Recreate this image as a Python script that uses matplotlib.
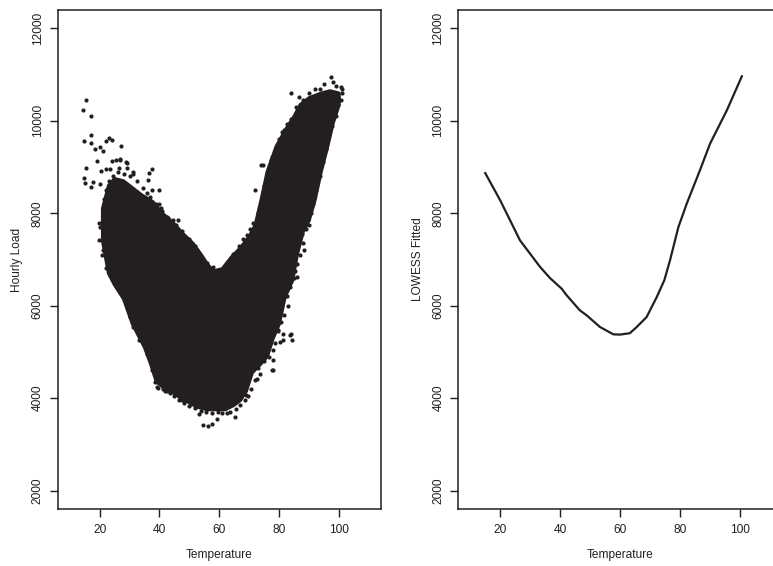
import numpy as np
import matplotlib
matplotlib.use("Agg")
import matplotlib.pyplot as plt

plt.rcParams['font.family'] = ['Liberation Sans', 'DejaVu Sans']

INK = '#231f20'

# Dense core of the load/temperature cloud: upper and lower edges
core_up_temp = [21, 23, 25, 28, 31, 34, 37.8, 41, 44.5, 48, 51.2, 54, 56, 58, 61,
                64, 67, 70, 72, 74, 76, 79, 82.5, 85, 87, 90, 94, 97, 100]
core_up_load = [8100, 8600, 8750, 8700, 8550, 8400, 8250, 8000, 7800, 7550, 7350,
                7100, 6900, 6750, 6800, 7050, 7250, 7500, 7750, 8300, 8900, 9450,
                9850, 10100, 10350, 10500, 10600, 10650, 10600]
core_lo_temp = [21, 23, 25, 28, 31, 33, 35, 37, 39, 41, 44, 47, 50, 53, 56, 59, 62,
                65, 67, 69, 71, 74, 76, 78, 80, 82, 84.5, 86, 88, 90, 92, 94, 96,
                98, 100]
core_lo_load = [7400, 6700, 6450, 6150, 5600, 5350, 5100, 4750, 4350, 4250, 4150,
                4000, 3900, 3800, 3750, 3750, 3750, 3850, 3950, 4150, 4550, 4750,
                4900, 5300, 5600, 6200, 6550, 7100, 7600, 7850, 8300, 8900, 9400,
                9950, 10350]

# Individual hours around the edge of the cloud
edge_temp = [15.6, 14.5, 17.0, 17.3, 14.8, 17.0, 18.4, 20.3, 21.0, 22.1, 23.2, 24.2,
             27.0, 19.0, 24.0, 25.4, 26.8, 28.8, 15.3, 20.4, 22.0, 23.4, 26.5, 29.2,
             31.2, 37.4, 36.6, 14.8, 15.1, 17.7, 17.0, 20.3, 36.2, 39.9, 40.5,
             21.2, 19.9, 20.7, 22.1, 20.1,
             32.4, 38.5, 37.4, 38.5, 39.6, 41.1, 30.5, 34.0, 35.8, 42.5, 44.8, 47.5,
             50.5, 33.2, 39.1, 41.3, 42.9, 44.6, 47.4, 50.2, 51.9,
             54.4, 56.3, 57.4, 59.1, 53.2, 62.6, 65.2, 68.9, 72.5, 73.6, 77.5, 77.8,
             78.0, 79.7, 80.3, 81.4, 81.4, 83.6, 83.8, 84.2, 81.9, 82.5, 82.5,
             90.1, 88.3, 85.8, 65.2, 69.1, 71.3, 72.0, 74.0, 69.0, 64.6, 62.4,
             58.0, 53.5, 46.8, 44.6, 42.4, 40.0, 37.4, 35.7, 31.0, 29.0, 26.7,
             49.1, 52.4, 55.8, 46.3,
             97.3, 83.8, 86.7, 93.6, 100.5, 100.9, 74.5, 77.5, 80.8, 82.5, 95.9,
             94.2, 99.7, 98.1, 95.9, 93.6, 92.5, 90.9, 90.3, 88.6, 87.5, 84.7,
             80.3, 79.2, 77.2, 75.8, 74.7, 73.6, 72.5, 71.3,
             # cold branch, left side
             19.9, 21.8, 21.2, 22.9, 24.0, 25.1, 26.8, 27.9, 29.0, 30.1, 31.2,
             # warm branch, left side
             66.5, 68.0, 70.3, 73.0, 74.0, 75.0, 76.5, 78.5, 80.0, 81.5, 84.0,
             85.5, 88.0, 90.0, 92.0, 95.0, 98.0, 99.0, 101.0,
             # warm branch right side and bottom of the trough
             100.6, 99.5, 98.8, 97.5, 96.5, 95.5, 94.5, 93.5, 92.3, 91.2, 90.5,
             89.5, 88.8, 87.8, 86.8, 86.0, 85.2, 84.8, 83.5, 82.8, 81.7, 80.5,
             79.5, 78.5, 77.8, 76.5, 75.0, 73.0, 71.8, 70.5, 69.5, 68.5, 67.0,
             65.5, 63.5, 61.0, 59.5, 57.5, 55.5, 53.8, 52.0, 50.0, 48.2, 46.5,
             45.0, 43.5, 41.8, 40.5, 39.8, 38.8, 37.8, 36.8, 35.5, 34.5, 33.5,
             32.0,
             # top of the trough and cold branch
             57.0, 59.0, 60.5, 62.0, 63.5, 65.5, 52.0, 50.0, 47.5, 45.5, 43.0,
             41.0, 39.0, 37.0, 34.5, 32.5, 30.0, 28.0, 26.0, 24.5, 23.0, 22.0,
             21.5]
edge_load = [10460, 10230, 10100, 9690, 9560, 9520, 9400, 9440, 9350, 9560, 9620, 9580,
             9460, 9130, 9130, 9150, 9170, 9120, 8990, 8920, 8950, 8950, 8970, 8990,
             8900, 8950, 8870, 8770, 8660, 8680, 8560, 8630, 8730, 8510, 8120,
             7980, 7420, 7090, 6820, 7700,
             5470, 4560, 4600, 4350, 4220, 4200, 5900, 5250, 4950, 4150, 4100, 3950,
             3870, 5260, 4240, 4250, 4380, 4170, 4060, 3950, 3840,
             3410, 3390, 3440, 3550, 3660, 3670, 3590, 4060, 4420, 4530, 4600, 4600,
             4820, 5470, 5210, 5250, 5390, 5360, 5390, 5260, 6220, 6330, 6200,
             7740, 7200, 6620, 7130, 7520, 7780, 8500, 9040, 7420, 7130, 6910,
             6840, 6730, 7560, 7850, 7920, 8200, 8500, 8430, 8860, 9080, 9150,
             7420, 7200, 6920, 7850,
             10950, 10610, 10510, 10680, 10740, 10610, 9040, 9220, 9760, 9940, 9580,
             9260, 10520, 10160, 10520, 9580, 9220, 8860, 8430, 7990, 7560, 6840,
             9580, 9440, 9150, 8860, 8430, 8140, 7850, 7560,
             7780, 7600, 7200, 7020, 6770, 6550, 6370, 6190, 5970, 5750, 5540,
             7300, 7450, 7650, 8000, 8250, 8600, 9000, 9300, 9600, 9800, 10050,
             10300, 10450, 10600, 10700, 10800, 10850, 10750, 10700,
             10450, 10350, 10100, 9900, 9700, 9400, 9100, 8800, 8500, 8200, 8000,
             7850, 7650, 7350, 7100, 6900, 6750, 6600, 6400, 6000, 5800, 5650,
             5450, 5200, 5050, 4900, 4800, 4650, 4400, 4200, 4050, 3950, 3850,
             3760, 3700, 3680, 3690, 3680, 3700, 3720, 3780, 3840, 3900, 3960,
             4050, 4100, 4150, 4300, 4450, 4600, 4850, 5000, 5150, 5300, 5500,
             5700,
             6780, 6700, 6760, 6820, 6950, 7080, 7300, 7450, 7620, 7750, 7900,
             8050, 8200, 8350, 8550, 8700, 8800, 8850, 8900, 8800, 8700, 8500,
             8300]

# LOWESS fit of load on temperature
fit_temp = [15, 20, 26.6, 33.3, 36.6, 40.5, 42.2, 46.6, 48.9, 53.3, 57.8, 60,
            63.3, 65.6, 68.9, 72.3, 74.8, 76.7, 79.5, 82.3, 86.7, 90.1, 95.7, 100.7]
fit_load = [8870, 8280, 7415, 6840, 6600, 6370, 6225, 5900, 5790, 5540, 5380, 5375,
            5405, 5540, 5755, 6190, 6550, 6980, 7700, 8210, 8930, 9510, 10230, 10965]

x_ticks = [20, 40, 60, 80, 100]
y_ticks = [2000, 4000, 6000, 8000, 10000, 12000]

fig = plt.figure(figsize=(7.73, 5.66), dpi=100)
ax1 = fig.add_axes([0.0746, 0.1007, 0.4183, 0.8816])
ax2 = fig.add_axes([0.5929, 0.1007, 0.4183, 0.8816])

# left: raw hourly loads
ax1.fill(np.concatenate([core_up_temp, core_lo_temp[::-1]]),
         np.concatenate([core_up_load, core_lo_load[::-1]]),
         facecolor=INK, edgecolor=INK, linewidth=2.4, joinstyle='round')
ax1.scatter(edge_temp, edge_load, s=9, color=INK, linewidths=0)

# right: smoothed curve
ax2.plot(fit_temp, fit_load, color=INK, linewidth=1.6)

for ax, ylab in ((ax1, 'Hourly Load'), (ax2, 'LOWESS Fitted')):
    ax.set_xlim(6, 114)
    ax.set_ylim(1600, 12400)
    ax.set_xticks(x_ticks)
    ax.set_yticks(y_ticks)
    ax.tick_params(direction='out', length=5.5, width=1, color=INK,
                   labelsize=8.6, labelcolor=INK)
    ax.tick_params(axis='x', pad=5.0)
    ax.tick_params(axis='y', pad=4.6)
    for lbl in ax.get_yticklabels():
        lbl.set_rotation(90)
        lbl.set_va('center')
    for sp in ax.spines.values():
        sp.set_linewidth(1.1)
        sp.set_color(INK)
    ax.set_xlabel('Temperature', fontsize=8.6, color=INK, va='center')
    ax.xaxis.set_label_coords(0.5, -0.092)
    ax.set_ylabel(ylab, fontsize=8.6, color=INK, va='center')
    ax.yaxis.set_label_coords(-0.126, 0.5)

fig.savefig('out.png', dpi=100)
